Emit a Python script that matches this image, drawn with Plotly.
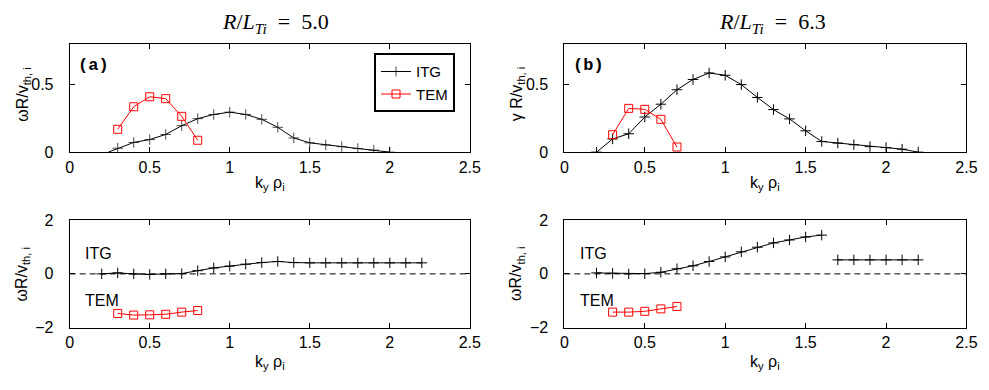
import plotly.graph_objects as go

# ---------------- data ----------------
# (a) growth rate, R/LTi = 5.0
ky_itg_a = [0.2, 0.3, 0.4, 0.5, 0.6, 0.7, 0.8, 0.9, 1.0, 1.1, 1.2, 1.3, 1.4, 1.5, 1.6, 1.7, 1.8, 1.9, 2.0]
gam_itg_a = [-0.017, 0.031, 0.074, 0.095, 0.133, 0.198, 0.250, 0.281, 0.298, 0.281, 0.245, 0.186, 0.107,
             0.071, 0.055, 0.043, 0.029, 0.017, 0.002]
ky_tem_a = [0.3, 0.4, 0.5, 0.6, 0.7, 0.8]
gam_tem_a = [0.171, 0.338, 0.412, 0.398, 0.267, 0.090]

# (b) growth rate, R/LTi = 6.3
ky_itg_b = [0.2, 0.3, 0.4, 0.5, 0.6, 0.7, 0.8, 0.9, 1.0, 1.1, 1.2, 1.3, 1.4, 1.5, 1.6, 1.7, 1.8, 1.9, 2.0, 2.1, 2.2]
gam_itg_b = [0.002, 0.100, 0.138, 0.262, 0.357, 0.464, 0.540, 0.588, 0.571, 0.502, 0.407, 0.317, 0.248,
             0.160, 0.081, 0.069, 0.057, 0.043, 0.036, 0.024, 0.002]
ky_tem_b = [0.3, 0.4, 0.5, 0.6, 0.7]
gam_tem_b = [0.131, 0.326, 0.319, 0.245, 0.040]

# real frequency, R/LTi = 5.0
ky_itg_c = [0.2, 0.3, 0.4, 0.5, 0.6, 0.7, 0.8, 0.9, 1.0, 1.1, 1.2, 1.3, 1.4, 1.5, 1.6, 1.7, 1.8, 1.9, 2.0, 2.1, 2.2]
om_itg_c = [0.00, 0.036, 0.00, -0.02, 0.00, 0.01, 0.12, 0.22, 0.29, 0.36, 0.42, 0.46, 0.42, 0.41, 0.41,
            0.41, 0.41, 0.41, 0.41, 0.41, 0.41]
ky_tem_c = [0.3, 0.4, 0.5, 0.6, 0.7, 0.8]
om_tem_c = [-1.47, -1.53, -1.52, -1.50, -1.42, -1.36]

# real frequency, R/LTi = 6.3 (ITG has two branches)
ky_itg_d1 = [0.2, 0.3, 0.4, 0.5, 0.6, 0.7, 0.8, 0.9, 1.0, 1.1, 1.2, 1.3, 1.4, 1.5, 1.6]
om_itg_d1 = [0.036, 0.02, 0.00, 0.01, 0.06, 0.19, 0.30, 0.46, 0.63, 0.82, 0.99, 1.15, 1.26, 1.37, 1.44]
ky_itg_d2 = [1.7, 1.8, 1.9, 2.0, 2.1, 2.2]
om_itg_d2 = [0.52, 0.52, 0.52, 0.52, 0.52, 0.52]
ky_tem_d = [0.3, 0.4, 0.5, 0.6, 0.7]
om_tem_d = [-1.42, -1.42, -1.39, -1.30, -1.21]

x_ticks = [0, 0.5, 1, 1.5, 2, 2.5]
x_tick_text = ["0", "0.5", "1", "1.5", "2", "2.5"]

# ---------------- styling ----------------
SANS = "Liberation Sans, Arial, Helvetica, sans-serif"
BLACK = "#000000"
RED = "#ff0000"
W, H = 989, 390


def itg_trace(x, y, xa, ya, name="ITG", show=False, sizes=None):
    return go.Scatter(
        x=x, y=y, xaxis=xa, yaxis=ya, mode="lines+markers", name=name, showlegend=show,
        line=dict(color=BLACK, width=1),
        marker=dict(symbol="cross-thin", size=sizes if sizes is not None else 7.5,
                    line=dict(color=BLACK, width=1), color=BLACK),
    )


def tem_trace(x, y, xa, ya, name="TEM", show=False):
    return go.Scatter(
        x=x, y=y, xaxis=xa, yaxis=ya, mode="lines+markers", name=name, showlegend=show,
        line=dict(color=RED, width=1),
        marker=dict(symbol="square-open", size=8, color=RED, line=dict(color=RED, width=1)),
    )


fig = go.Figure()
sizes_a = [0] + [7.5] * (len(ky_itg_a) - 1)
fig.add_trace(itg_trace(ky_itg_a, gam_itg_a, "x", "y", show=True, sizes=sizes_a))
fig.add_trace(tem_trace(ky_tem_a, gam_tem_a, "x", "y", show=True))
fig.add_trace(itg_trace(ky_itg_b, gam_itg_b, "x2", "y2"))
fig.add_trace(tem_trace(ky_tem_b, gam_tem_b, "x2", "y2"))
fig.add_trace(itg_trace(ky_itg_c, om_itg_c, "x3", "y3"))
fig.add_trace(tem_trace(ky_tem_c, om_tem_c, "x3", "y3"))
fig.add_trace(itg_trace(ky_itg_d1, om_itg_d1, "x4", "y4"))
fig.add_trace(itg_trace(ky_itg_d2, om_itg_d2, "x4", "y4"))
fig.add_trace(tem_trace(ky_tem_d, om_tem_d, "x4", "y4"))

xdom_l = [66.7 / W, 473.0 / W]
xdom_r = [569.0 / W, 977.3 / W]
ydom_t = [1 - 151.0 / H, 1 - 38.0 / H]
ydom_b = [1 - 334.3 / H, 1 - 221.7 / H]

common = dict(showline=True, linecolor=BLACK, linewidth=1, mirror="ticks", ticks="inside",
              ticklen=5, tickwidth=1, tickcolor=BLACK, showgrid=False, zeroline=False,
              tickfont=dict(family=SANS, size=16, color=BLACK))


def xax(dom, anchor):
    return dict(domain=dom, anchor=anchor, range=[0, 2.5], tickvals=x_ticks, ticktext=x_tick_text,
                ticklabelstandoff=0, **common)


def yax(dom, anchor, rng, tv, tt):
    return dict(domain=dom, anchor=anchor, range=rng, tickvals=tv, ticktext=tt,
                ticklabelstandoff=12, **common)


top_tv, top_tt = [0, 0.5], ["0", "0.5"]
bot_tv, bot_tt = [-2, 0, 2], ["\u22122", "0", "2"]

fig.update_layout(
    width=W, height=H,
    margin=dict(l=0, r=0, t=0, b=0),
    paper_bgcolor="white", plot_bgcolor="white",
    font=dict(family=SANS, size=16, color=BLACK),
    xaxis=xax(xdom_l, "y"), yaxis=yax(ydom_t, "x", [0, 0.8], top_tv, top_tt),
    xaxis2=xax(xdom_r, "y2"), yaxis2=yax(ydom_t, "x2", [0, 0.8], top_tv, top_tt),
    xaxis3=xax(xdom_l, "y3"), yaxis3=yax(ydom_b, "x3", [-2, 2], bot_tv, bot_tt),
    xaxis4=xax(xdom_r, "y4"), yaxis4=yax(ydom_b, "x4", [-2, 2], bot_tv, bot_tt),
    legend=dict(x=375.7 / W, y=1 - 47.3 / H, xanchor="left", yanchor="top",
                bgcolor="white", bordercolor=BLACK, borderwidth=2,
                font=dict(family=SANS, size=15, color=BLACK), itemwidth=30,
                tracegroupgap=0),
    showlegend=True,
)

# dashed zero lines in the frequency panels
for xr, yr in [("x3", "y3"), ("x4", "y4")]:
    fig.add_shape(type="line", xref=f"{xr} domain", yref=yr, x0=0, x1=1, y0=0, y1=0,
                  line=dict(color=BLACK, width=1, dash="6px,4px"), layer="below")

ann = []
SERIF = "Liberation Serif, Times New Roman, serif"
SP = "&nbsp;&nbsp;"
# panel titles
ann.append(dict(x=276 / W, y=1 - 16 / H,
                text=f"<i>R</i>/<i>L</i><sub><i>Ti</i></sub>{SP}={SP}5.0",
                font=dict(family=SERIF, size=22)))
ann.append(dict(x=780 / W, y=1 - 16 / H,
                text=f"<i>R</i>/<i>L</i><sub><i>Ti</i></sub>{SP}={SP}6.3",
                font=dict(family=SERIF, size=22)))
# panel letters
ann.append(dict(x=91 / W, y=1 - 60 / H, text="<b>(a)</b>",
                font=dict(family="Liberation Mono, Courier New, monospace", size=17)))
ann.append(dict(x=594 / W, y=1 - 60 / H, text="<b>(b)</b>",
                font=dict(family="Liberation Mono, Courier New, monospace", size=17)))
# y titles
ann.append(dict(x=19 / W, y=1 - 90 / H, text="\u03c9R/v<sub>th, i</sub>", textangle=-90))
ann.append(dict(x=521 / W, y=1 - 90 / H, text="\u03b3 R/v<sub>th, i</sub>", textangle=-90))
ann.append(dict(x=19 / W, y=1 - 278 / H, text="\u03c9R/v<sub>th, i</sub>", textangle=-90))
ann.append(dict(x=521 / W, y=1 - 278 / H, text="\u03c9R/v<sub>th, i</sub>", textangle=-90))
# x titles
for xc in [270 / W, 773 / W]:
    ann.append(dict(x=xc, y=1 - 183 / H, text="k<sub>y</sub> \u03c1<sub>i</sub>"))
    ann.append(dict(x=xc, y=1 - 371 / H, text="k<sub>y</sub> \u03c1<sub>i</sub>"))
# mode labels in frequency panels
for xl in [80 / W, 583 / W]:
    ann.append(dict(x=xl, y=1 - 257 / H, text="ITG", xanchor="left"))
    ann.append(dict(x=xl, y=1 - 306 / H, text="TEM", xanchor="left"))

for a in ann:
    a.setdefault("xref", "paper")
    a.setdefault("yref", "paper")
    a.setdefault("xanchor", "center")
    a.setdefault("yanchor", "middle")
    a.setdefault("showarrow", False)
    a.setdefault("font", dict(family=SANS, size=16, color=BLACK))
    a["font"].setdefault("color", BLACK)
    fig.add_annotation(**a)

fig.write_html("out.html",
               config={"displayModeBar": False},
               post_script="document.body.style.margin='0';document.body.style.padding='0';")
